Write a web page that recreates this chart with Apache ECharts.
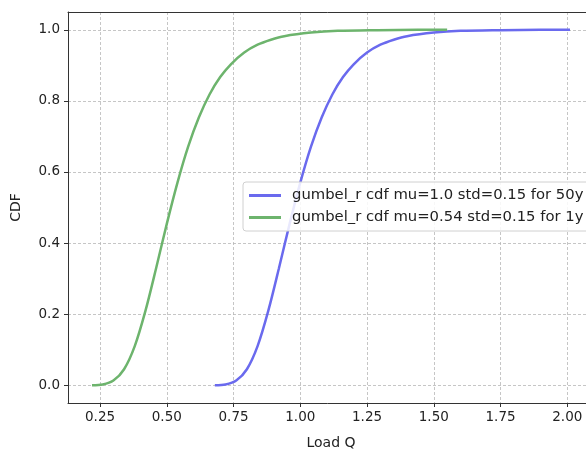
<!DOCTYPE html>
<html>
<head>
<meta charset="utf-8">
<script src="https://cdn.jsdelivr.net/npm/echarts@6/dist/echarts.min.js"></script>
<style>html,body{margin:0;padding:0;background:#fff}#c{width:586px;height:450px}</style>
</head>
<body>
<div id="c"></div>
<script>
// Blue: gumbel_r cdf mu=1.0 std=0.15 for 50y
const blueX = [0.68, 0.72, 0.76, 0.80, 0.84, 0.88, 0.92, 0.96, 1.00, 1.04, 1.08, 1.12, 1.16, 1.20, 1.25, 1.30, 1.35, 1.40, 1.50, 1.60, 1.75, 1.90, 2.01];
const blueY = [0.000, 0.002, 0.013, 0.045, 0.110, 0.209, 0.329, 0.454, 0.570, 0.671, 0.753, 0.818, 0.867, 0.903, 0.936, 0.958, 0.972, 0.982, 0.992, 0.997, 0.999, 1.000, 1.000];
// Green: gumbel_r cdf mu=0.54 std=0.15 for 1y
const greenX = [0.22, 0.26, 0.30, 0.34, 0.38, 0.42, 0.46, 0.50, 0.54, 0.58, 0.62, 0.66, 0.70, 0.74, 0.79, 0.84, 0.89, 0.94, 1.04, 1.14, 1.29, 1.44, 1.55];
const greenY = [0.000, 0.002, 0.013, 0.045, 0.110, 0.209, 0.329, 0.454, 0.570, 0.671, 0.753, 0.818, 0.867, 0.903, 0.936, 0.958, 0.972, 0.982, 0.992, 0.997, 0.999, 1.000, 1.000];
const xTicks = [0.25, 0.50, 0.75, 1.00, 1.25, 1.50, 1.75, 2.00];
const yTicks = [0.0, 0.2, 0.4, 0.6, 0.8, 1.0];
const seriesNames = ['gumbel_r cdf mu=1.0 std=0.15 for 50y', 'gumbel_r cdf mu=0.54 std=0.15 for 1y'];

const blueColor = '#6a6aee';
const greenColor = '#6db46d';
const font = 'DejaVu Sans';

const chart = echarts.init(document.getElementById('c'), null, {renderer: 'canvas'});
const gridLine = {show: true, lineStyle: {color: '#b8b8b8', width: 0.8, type: [3, 2]}};
chart.setOption({
  animation: false,
  backgroundColor: '#fff',
  textStyle: {fontFamily: font},
  grid: {left: 68, top: 12, width: 526, height: 391, show: false,
         containLabel: false, outerBoundsMode: 'none'},
  xAxis: [{
    type: 'value', min: 0.13, max: 2.10, position: 'bottom',
    name: 'Load Q', nameLocation: 'middle', nameGap: 33,
    nameTextStyle: {fontSize: 14, color: '#222', fontFamily: font},
    axisLine: {show: true, onZero: false, lineStyle: {color: '#333', width: 1}},
    axisTick: {show: true, length: 4, customValues: xTicks, lineStyle: {color: '#333'}},
    axisLabel: {customValues: xTicks, fontSize: 13.5, color: '#222', margin: 7, fontFamily: font,
      formatter: v => v.toFixed(2)},
    splitLine: gridLine
  }, {
    type: 'value', min: 0.13, max: 2.10, position: 'top',
    axisLine: {show: true, onZero: false, lineStyle: {color: '#333', width: 1}},
    axisTick: {show: false}, axisLabel: {show: false}, splitLine: {show: false}
  }],
  yAxis: {
    type: 'value', min: -0.05, max: 1.05,
    name: 'CDF', nameLocation: 'middle', nameGap: 45, nameRotate: 90,
    nameTextStyle: {fontSize: 14, color: '#222', fontFamily: font},
    axisLine: {show: true, onZero: false, lineStyle: {color: '#333', width: 1}},
    axisTick: {show: true, length: 4, customValues: yTicks, lineStyle: {color: '#333'}},
    axisLabel: {customValues: yTicks, fontSize: 13.5, color: '#222', margin: 8, fontFamily: font,
      formatter: v => v.toFixed(1)},
    splitLine: gridLine
  },
  legend: {
    orient: 'vertical', left: 243, top: 182,
    padding: [5, 6, 5, 6], itemGap: 5,
    itemWidth: 32, itemHeight: 3, icon: 'rect',
    backgroundColor: 'rgba(255,255,255,0.85)', borderColor: '#d0d0d0', borderWidth: 1, borderRadius: 3,
    textStyle: {fontSize: 14.8, lineHeight: 17, color: '#222', fontFamily: font, padding: [0, 0, 0, 6]},
    data: seriesNames
  },
  series: [
    {name: seriesNames[0], type: 'line', showSymbol: false, symbol: 'none', smooth: 0.3,
     color: blueColor, lineStyle: {width: 2.5, color: blueColor},
     data: blueX.map((x, i) => [x, blueY[i]])},
    {name: seriesNames[1], type: 'line', showSymbol: false, symbol: 'none', smooth: 0.3,
     color: greenColor, lineStyle: {width: 2.5, color: greenColor},
     data: greenX.map((x, i) => [x, greenY[i]])}
  ]
});
</script>
</body>
</html>
